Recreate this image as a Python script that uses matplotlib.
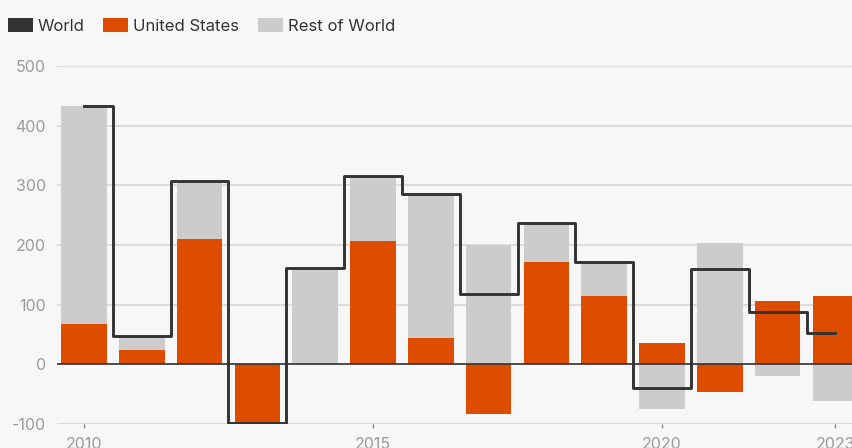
import matplotlib
matplotlib.use("Agg")
import matplotlib.pyplot as plt
from matplotlib.patches import Patch
import numpy as np

plt.rcParams['font.family'] = ['Inter', 'DejaVu Sans']

years = [2010, 2011, 2012, 2013, 2014, 2015, 2016, 2017, 2018, 2019, 2020, 2021, 2022, 2023]
us = [67, 24, 210, -98, 0, 206, 44, -83, 172, 115, 36, -46, 106, 114]
rest = [366, 23, 97, -1, 162, 108, 240, 200, 64, 55, -75, 204, -19, -62]
world = [433, 47, 307, -99, 162, 315, 285, 118, 237, 171, -39, 160, 88, 52]
xtick_years = [2010, 2015, 2020, 2023]
yticks = [-100, 0, 100, 200, 300, 400, 500]

ORANGE = '#DE4C00'
GREY = '#CCCCCC'
DARK = '#333333'
BG = '#F7F7F7'

fig = plt.figure(figsize=(8.52, 4.48), dpi=100, facecolor=BG)
ax = fig.add_axes([57/852, 24/448, 1 - 57/852, (424-66)/448])
ax.set_facecolor(BG)

x = np.array(years)
us_a = np.array(us)
rest_a = np.array(rest)
bottom_rest = np.where(rest_a >= 0, np.maximum(us_a, 0), np.minimum(us_a, 0))
w = 0.79
ax.bar(x, us_a, width=w, color=ORANGE, zorder=2)
ax.bar(x, rest_a, bottom=bottom_rest, width=w, color=GREY, zorder=2)
ax.step(x, world, where='mid', color=DARK, lw=2.1, zorder=4)

ax.axhline(0, color=DARK, lw=1.2, zorder=3)
ax.set_ylim(-100, 500)
ax.set_xlim(2009.533, 2023.287)
ax.set_yticks(yticks)
ax.set_yticklabels([str(v) for v in yticks])
ax.yaxis.grid(True, color='#D9D9D9', lw=1.3, zorder=0)
ax.set_axisbelow(True)
ax.set_xticks(xtick_years)
ax.set_xticklabels([str(v) for v in xtick_years])
for s in ax.spines.values():
    s.set_visible(False)
ax.tick_params(axis='y', length=0, pad=8, labelsize=11.5, labelcolor='#9A9A9A')
ax.tick_params(axis='x', length=3, width=1, color='#888888', pad=6, labelsize=11.5, labelcolor='#9A9A9A')

handles = [Patch(facecolor=DARK, label='World'),
           Patch(facecolor=ORANGE, label='United States'),
           Patch(facecolor=GREY, label='Rest of World')]
leg = fig.legend(handles=handles, loc='upper left', bbox_to_anchor=(8/852, 1.0 - 18/448),
                 ncol=3, frameon=False, fontsize=12, handlelength=1.5, handleheight=0.95,
                 handletextpad=0.3, columnspacing=1.1, borderaxespad=0, borderpad=0.0)
for t in leg.get_texts():
    t.set_color('#333333')

fig.savefig('out.png', dpi=100, facecolor=BG)
